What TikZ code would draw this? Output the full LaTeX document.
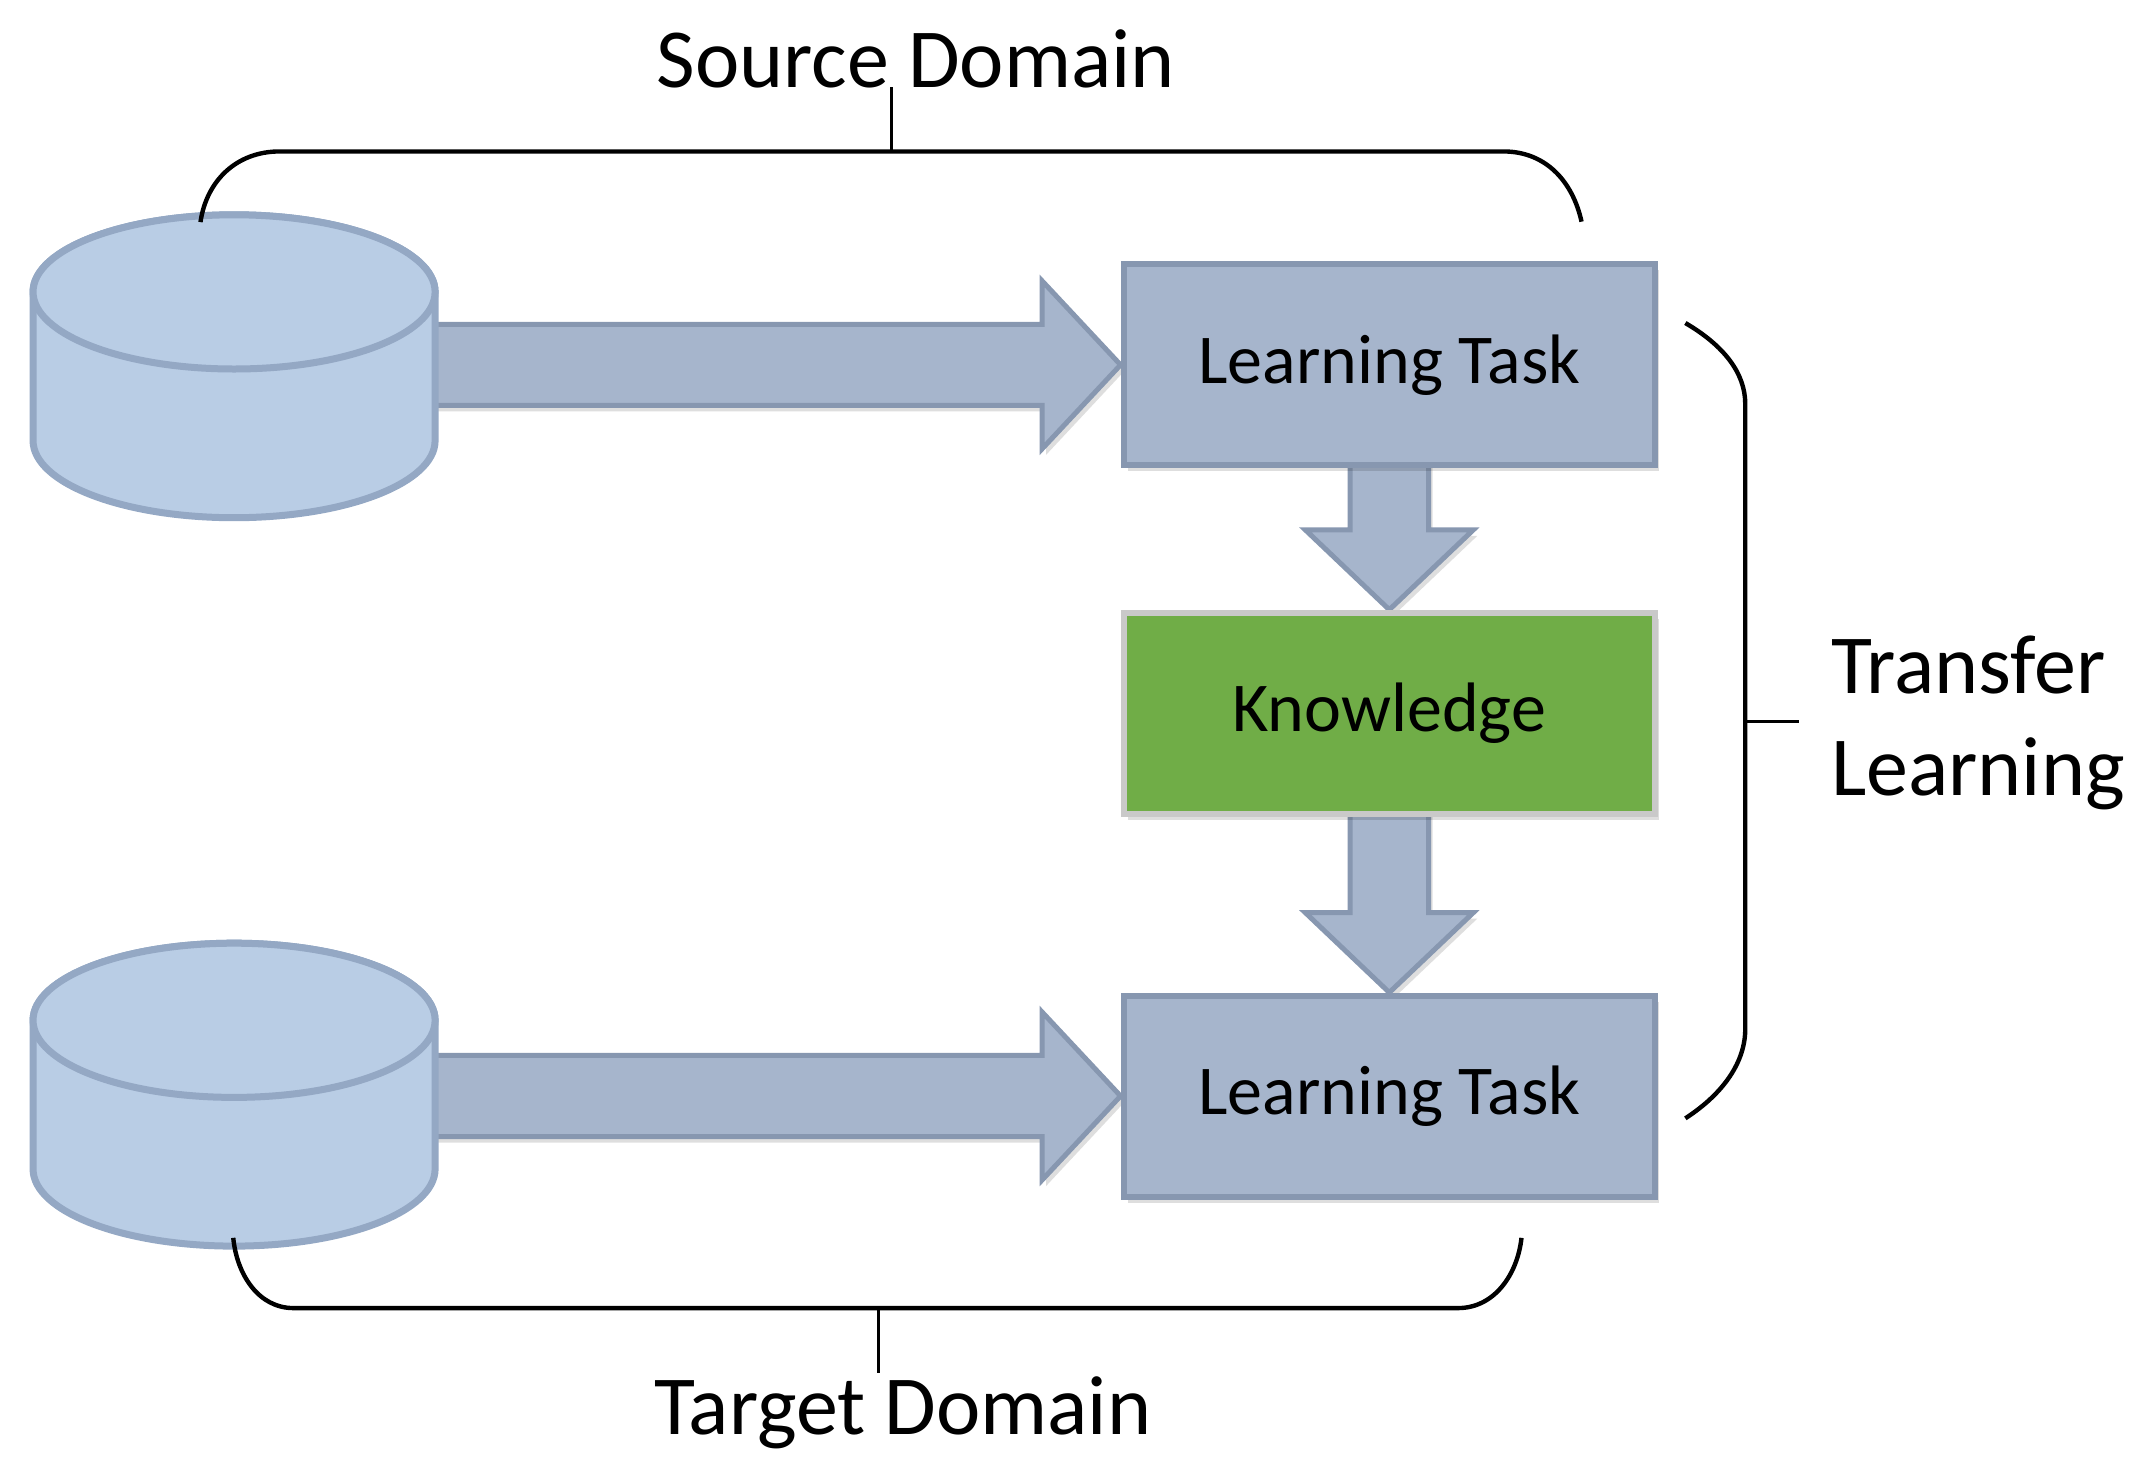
\documentclass[tikz,border=0pt]{standalone}
\usepackage{fontspec}
\setmainfont{Carlito}
\usetikzlibrary{calc,shadows,backgrounds}
\definecolor{cylfill}{HTML}{B9CDE5}
\definecolor{cylline}{HTML}{94A8C4}
\definecolor{boxfill}{HTML}{A6B5CC}
\definecolor{boxline}{HTML}{8797B0}
\definecolor{knowfill}{HTML}{70AD47}
\definecolor{knowline}{HTML}{C9C9C9}
\begin{document}
\begin{tikzpicture}[x=0.6885pt,y=0.6885pt,
  softshadow/.style={drop shadow={shadow xshift=2pt,shadow yshift=-3pt,opacity=0.13,fill=black}},
  taskbox/.style={rectangle,draw=boxline,fill=boxfill,line width=3pt,
    minimum width=386*0.6885pt,minimum height=146*0.6885pt,
    font=\fontsize{35}{40}\selectfont,softshadow},
  knowbox/.style={taskbox,draw=knowline,fill=knowfill},
  blockarrow/.style={draw=boxline,fill=boxfill,line width=2.5pt,line join=miter,softshadow},
  cylstyle/.style={draw=cylline,fill=cylfill,line width=3.5pt},
  brace/.style={draw=black,line width=2.2pt},
  tickline/.style={draw=black,line width=1.6pt},
  bigtext/.style={inner sep=0pt,anchor=base west,font=\fontsize{42}{50}\selectfont}]

\useasboundingbox (0,0) rectangle (1560,1076);

% task boxes
\node[taskbox] (lt1) at (1009,811) {Learning Task};
\node[knowbox] (kn) at (1009,558) {Knowledge};
\node[taskbox] (lt2) at (1009,280) {Learning Task};

% databases (top ellipse centres)
\coordinate (db1) at (170,864);
\coordinate (db2) at (170,335);

% block arrows behind the boxes
\begin{scope}[on background layer]
  \path[blockarrow] (lt1.west) -- ++(-57,61) -- ++(0,-31.5) -- ++(-460,0)
     -- ++(0,-59) -- ++(460,0) -- ++(0,-31.5) -- cycle;
  \path[blockarrow] (lt2.west) -- ++(-57,61) -- ++(0,-31.5) -- ++(-460,0)
     -- ++(0,-59) -- ++(460,0) -- ++(0,-31.5) -- cycle;
  \path[blockarrow] (kn.north) -- ++(-61,58) -- ++(32.5,0) -- ++(0,60)
     -- ++(57,0) -- ++(0,-60) -- ++(32.5,0) -- cycle;
  \path[blockarrow] (lt2.north) -- ++(-61,58) -- ++(32.5,0) -- ++(0,85)
     -- ++(57,0) -- ++(0,-85) -- ++(32.5,0) -- cycle;
\end{scope}

% cylinders
\foreach \c in {db1,db2}{
  \path[cylstyle] ($(\c)+(-146,0)$) -- ++(0,-108)
     arc[start angle=180,end angle=360,x radius=146,y radius=56]
     -- ++(0,108)
     arc[start angle=0,end angle=180,x radius=146,y radius=56] -- cycle;
  \path[cylstyle] (\c) ellipse[x radius=146,y radius=56];
}

% source domain brace
\draw[brace] (145.6,914.7) .. controls (150,945) and (172,966) .. (203,966)
   -- (1092,966) .. controls (1122,966) and (1142,945) .. (1148.6,915);
\coordinate (srctick) at (647.5,966);
\node[bigtext] (src) at (476.8,1012.5) {Source Domain};
\draw[tickline] (srctick) -- (srctick |- src.base);

% target domain brace
\draw[brace] (169.4,177) .. controls (172,150) and (188,126) .. (213,126)
   -- (1059,126) .. controls (1085,126) and (1102,150) .. (1105,177);
\coordinate (tgttick) at (638,126);
\node[bigtext] (tgt) at (475,34.2) {Target Domain};
\draw[tickline] (tgttick) -- ++(0,-47);

% transfer learning brace
\draw[brace] (1224,841.4) .. controls (1252,825) and (1267.5,805) .. (1267.5,782.6)
   -- (1267.5,328.7) .. controls (1267.5,305) and (1252,282) .. (1224,263.8);
\coordinate (trtick) at (1267.5,552);
\node[bigtext] (tr1) at (1329.6,572) {Transfer};
\node[bigtext] (tr2) at (1329.6,498) {Learning};
\draw[tickline] (trtick) -- ++(39,0);
\end{tikzpicture}
\end{document}
